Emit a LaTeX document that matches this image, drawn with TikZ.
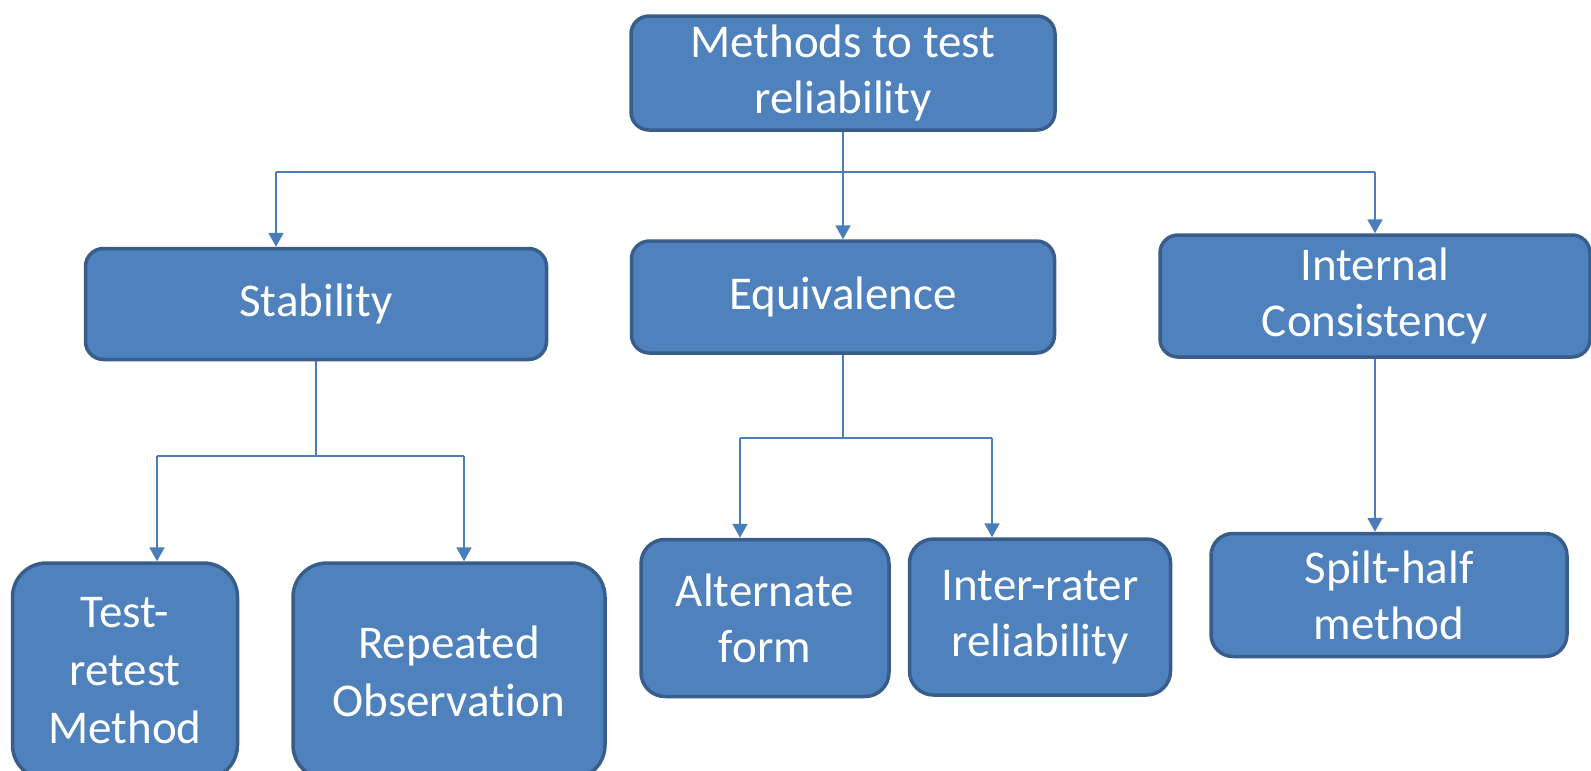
\documentclass[tikz,border=0pt]{standalone}
\usepackage{fontspec}
\setmainfont{Carlito}[Ligatures=NoCommon]
\usetikzlibrary{arrows.meta,positioning}
\definecolor{boxfill}{HTML}{4F81BD}
\definecolor{boxline}{HTML}{385D8A}
\definecolor{linkcol}{HTML}{4A7EBB}

\begin{document}
\begin{tikzpicture}[x=1pt, y=-1pt,
    box/.style={draw=boxline, fill=boxfill, line width=3.5pt, rounded corners=18pt,
                text=white, align=center, inner sep=0pt,
                font=\fontsize{47}{56}\selectfont},
    tallbox/.style={box, rounded corners=34pt, font=\fontsize{47}{58}\selectfont},
    link/.style={draw=linkcol, line width=2pt},
    arr/.style={link, -{Triangle[length=14pt,width=15pt]}}
]
    \useasboundingbox (0,0) rectangle (1591,771);

    % Wurzel
    \node[box, minimum width=424pt, minimum height=114pt] (root) at (843,73) {Methods to test\\reliability};

    % zweite Ebene
    \node[box, minimum width=461pt, minimum height=111pt] (stab) at (316,304) {Stability};
    \node[box, minimum width=423pt, minimum height=112pt] (equiv) at (843,297) {Equivalence};
    \node[box, minimum width=430pt, minimum height=122pt] (intc) at (1375,296) {Internal\\Consistency};

    % dritte Ebene
    \node[tallbox, minimum width=225pt, minimum height=216pt] (retest) at (125,671) {Test-\\retest\\Method};
    \node[tallbox, minimum width=312pt, minimum height=216pt] (repeat) at (449,671) {Repeated\\Observation};
    \node[box, rounded corners=24pt, minimum width=248pt, minimum height=157pt] (alt) at (765,618) {Alternate\\form};
    \node[box, rounded corners=24pt, minimum width=261pt, minimum height=156pt] (inter) at (1040,617) {Inter-rater\\reliability};
    \node[box, rounded corners=22pt, minimum width=356pt, minimum height=123pt] (split) at (1389,595) {Spilt-half\\method};

    % Verteiler oben
    \coordinate (busL) at (276,172);
    \coordinate (busR) at (intc.north |- busL);
    \draw[link] (busL) -- (busR);
    \draw[arr] (root.south) -- (equiv.north);
    \draw[arr] (busL) -- (busL |- stab.north);
    \draw[arr] (busR) -- (intc.north);

    % Verteiler Stability
    \coordinate (stabJ) at (stab.south |- 0,456);
    \coordinate (stabL) at (157,456);
    \coordinate (stabR) at (464,456);
    \draw[link] (stab.south) -- (stabJ);
    \draw[link] (stabL) -- (stabR);
    \draw[arr] (stabL) -- (stabL |- retest.north);
    \draw[arr] (stabR) -- (stabR |- repeat.north);

    % Verteiler Equivalence
    \coordinate (eqJ) at (equiv.south |- 0,438);
    \coordinate (eqL) at (740,438);
    \coordinate (eqR) at (992,438);
    \draw[link] (equiv.south) -- (eqJ);
    \draw[link] (eqL) -- (eqR);
    \draw[arr] (eqL) -- (eqL |- alt.north);
    \draw[arr] (eqR) -- (eqR |- inter.north);

    % Internal Consistency
    \draw[arr] (intc.south) -- (split.north -| intc.south);
\end{tikzpicture}
\end{document}
